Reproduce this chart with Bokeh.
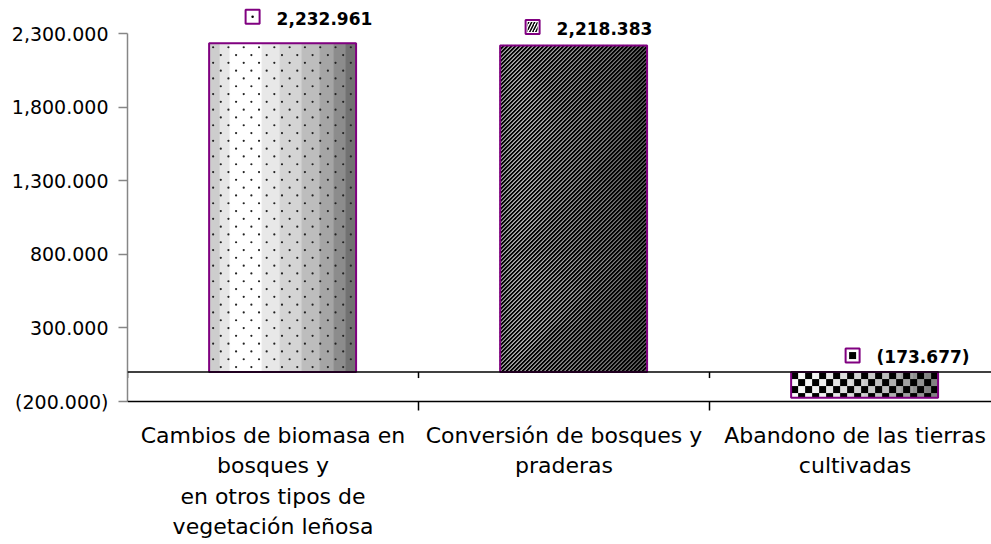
from bokeh.plotting import figure
from bokeh.models import FixedTicker, Span
from bokeh.core.properties import value
from bokeh.embed import file_html
from bokeh.resources import INLINE

# ---------------- data ----------------
categories = [
    "Cambios de biomasa en\nbosques y\nen otros tipos de\nvegetación leñosa",
    "Conversión de bosques y\npraderas",
    "Abandono de las tierras\ncultivadas",
]
values = [2232.961, 2218.383, -173.677]
y_ticks = [-200, 300, 800, 1300, 1800, 2300]


def fmt(v):
    s = f"{abs(v):,.3f}"
    return f"({s})" if v < 0 else s


# ---------------- style / geometry ----------------
PURPLE = "#800080"
FONT = "DejaVu Sans"
W, H = 991, 544
BORDER_L = 127
px_x = 291.0            # pixels per category
px_y = 0.1472           # pixels per unit
axis_bottom_px = 401    # screen y of the lowest tick (-200)
X_START = 0.0
X_END = (W - BORDER_L) / px_x
Y_START = y_ticks[0] - (H - axis_bottom_px) / px_y
Y_END = y_ticks[0] + axis_bottom_px / px_y

bar_shift = 0.033
bar_width = 0.505

bands = [
    [(11, "#cdcdcd"), (10, "#e6e6e6"), (32, "#ffffff"), (18, "#e8e8e8"), (22, "#d4d4d4"),
     (18, "#bdbdbd"), (14, "#a5a5a5"), (12, "#8c8c8c"), (10, "#717171")],
    [(1, "#%02x%02x%02x" % (g, g, g)) for g in (235, 250, 248, 240, 230, 220, 210, 200, 190, 178, 165, 150)],
    [(1, "#%02x%02x%02x" % (g, g, g)) for g in (250, 245, 240, 230, 220, 210, 200, 190, 175, 160, 145, 130)],
]

lab_dx = [-6, -17, 12]     # px, text left edge relative to bar centre
lab_dy = [25, 17, 15]      # px, text centre above bar top
CHECK = 7.0                # px, checker cell size
DOT_DX, DOT_DY = 15.3, 7.8 # px, staggered dot grid
STRIPE = 4.0               # px, stripe period (horizontal)

p = figure(width=W, height=H, x_range=(X_START, X_END), y_range=(Y_START, Y_END),
           output_backend="svg", toolbar_location=None,
           min_border_left=BORDER_L, min_border_right=0, min_border_top=0,
           min_border_bottom=0)
p.outline_line_color = None
p.grid.visible = False
p.xaxis.visible = False

n_cat = len(categories)
centers = [i + 0.5 + bar_shift for i in range(n_cat)]

# zero line, bottom category line, their ticks
p.add_layout(Span(location=0, dimension="width", line_color="black", line_width=1.5))
p.add_layout(Span(location=y_ticks[0], dimension="width", line_color="black", line_width=1.5))
bx = list(range(n_cat))
p.segment(x0=bx, y0=[0] * n_cat, x1=bx, y1=[-6 / px_y] * n_cat, line_color="black", line_width=1.5)
bx2 = list(range(1, n_cat))
p.segment(x0=bx2, y0=[y_ticks[0]] * len(bx2), x1=bx2, y1=[y_ticks[0] - 9 / px_y] * len(bx2),
          line_color="black", line_width=1.5)

# gradient strips
for i, v in enumerate(values):
    tot = sum(b[0] for b in bands[i])
    left = centers[i] - bar_width / 2
    lefts, rights, cols = [], [], []
    acc = 0
    for wgt, col in bands[i]:
        lefts.append(left + bar_width * acc / tot)
        acc += wgt
        rights.append(left + bar_width * acc / tot)
        cols.append(col)
    p.quad(left=lefts, right=rights, bottom=[0] * len(lefts), top=[v] * len(lefts),
           fill_color=cols, line_color=cols, line_width=1)

# --- bar 1: staggered dot texture
v1 = values[0]
l1 = centers[0] - bar_width / 2
r1 = centers[0] + bar_width / 2
dxs, dys = [], []
row = 0
yy = v1 - (DOT_DY / 2) / px_y
while yy > 0:
    off = (4 if row % 2 == 0 else 4 + DOT_DX / 2) / px_x
    xx = l1 + off
    while xx < r1 - 2 / px_x:
        dxs.append(xx); dys.append(yy)
        xx += DOT_DX / px_x
    yy -= DOT_DY / px_y
    row += 1
p.scatter(x=dxs, y=dys, marker="circle", size=2.2, fill_color="#222222", line_color=None)

# --- bar 2: diagonal stripes
v2 = values[1]
l2 = centers[1] - bar_width / 2
r2 = centers[1] + bar_width / 2
Wp = (r2 - l2) * px_x
Hp = v2 * px_y
sx0, sy0, sx1, sy1 = [], [], [], []
c = -Hp
while c < Wp:
    u0 = max(0.0, c)
    u1 = min(Wp, c + Hp)
    if u1 > u0:
        sx0.append(l2 + u0 / px_x); sy0.append((u0 - c) / px_y)
        sx1.append(l2 + u1 / px_x); sy1.append((u1 - c) / px_y)
    c += STRIPE
p.segment(x0=sx0, y0=sy0, x1=sx1, y1=sy1, line_color="black", line_width=2.0)

# --- bar 3: checker texture
v3 = values[2]
l3 = centers[2] - bar_width / 2
r3 = centers[2] + bar_width / 2
cw, ch = CHECK / px_x, CHECK / px_y
ncol = int((r3 - l3) / cw) + 1
nrow = int(abs(v3) / ch) + 1
cl, cr, cb, ct = [], [], [], []
for r in range(nrow):
    for cc in range(ncol):
        if (r + cc) % 2 == 0:
            x0 = l3 + cc * cw
            x1 = min(x0 + cw, r3)
            y0 = -r * ch
            y1 = max(y0 - ch, v3)
            if x0 < r3 and y0 > v3:
                cl.append(x0); cr.append(x1); ct.append(y0); cb.append(y1)
p.quad(left=cl, right=cr, top=ct, bottom=cb, fill_color="black", line_color=None)

# outlines
p.vbar(x=centers, top=values, bottom=0, width=bar_width, fill_alpha=0,
       line_color=PURPLE, line_width=2)

# data labels
tx = [cx + lab_dx[i] / px_x for i, cx in enumerate(centers)]
ty = [max(v, 0) + lab_dy[i] / px_y for i, v in enumerate(values)]
p.text(x=tx, y=ty, text=[fmt(v) for v in values], text_font=value(FONT),
       text_font_style="bold", text_font_size="17px", text_color="black",
       text_align="left", text_baseline="middle")
kx = [x - 24 / px_x for x in tx]
ky = [y + 1.5 / px_y for y in ty]
p.scatter(x=kx, y=ky, marker="square", size=14, fill_color="white",
          line_color=PURPLE, line_width=2)
p.scatter(x=[kx[0]], y=[ky[0]], marker="circle", size=2.5, fill_color="black", line_color=None)
p.scatter(x=[kx[1]], y=[ky[1]], marker="square", size=10, fill_alpha=0, line_color=None,
          hatch_pattern="right_diagonal_line", hatch_color="black", hatch_scale=6, hatch_weight=1.5)
p.scatter(x=[kx[2]], y=[ky[2]], marker="square", size=7, fill_color="black", line_color=None)

# category labels under the bottom line
p.text(x=[i + 0.5 for i in range(n_cat)], y=[y_ticks[0]] * n_cat, text=categories,
       text_font=value(FONT), text_font_size="22px", text_color="black",
       text_align="center", text_baseline="top", text_line_height=1.22, y_offset=21)

# y axis
ya = p.yaxis[0]
ya.ticker = FixedTicker(ticks=y_ticks, minor_ticks=[])
ya.major_label_overrides = {t: fmt(t) for t in y_ticks}
ya.bounds = (y_ticks[0], y_ticks[-1])
ya.axis_line_color = "#868686"
ya.axis_line_width = 1.5
ya.major_tick_line_color = "#868686"
ya.major_tick_line_width = 1.5
ya.major_tick_out = 9
ya.major_tick_in = 0
ya.minor_tick_out = 0
ya.major_label_standoff = 10
ya.major_label_text_font = FONT
ya.major_label_text_font_size = "19px"
ya.major_label_text_color = "black"

open("out.html", "w").write(file_html(p, INLINE))
